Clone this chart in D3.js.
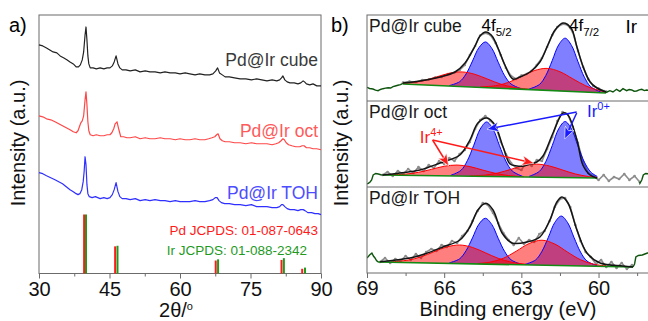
<!DOCTYPE html>
<html>
<head>
<meta charset="utf-8">
<script src="https://cdn.jsdelivr.net/npm/d3@7"></script>
<style>
  body { margin: 0; background: #fff; }
  svg { display: block; font-family: Arial, "Liberation Sans", sans-serif; }
  .frame { fill: none; stroke: #6b6b6b; stroke-width: 1; }
  .axis text { font-size: 20px; fill: #111; }
  .axis line { stroke: #6b6b6b; }
  .axis-title { font-size: 20px; fill: #111; }
  .sample-label { font-size: 17.5px; }
</style>
</head>
<body>
<div id="chart"></div>
<script>
// ---------- a) XRD patterns: [2theta (deg), intensity (a.u., stacked)] ----------
const xrdCube = [[30.0,229],[30.8,228],[31.6,226],[32.3,224],[33.0,222],[33.8,221],[34.5,218],[35.3,216],[36.0,214],[36.6,212],[37.3,210],[37.9,207],[38.4,207],[38.8,209],[39.2,214],[39.5,222],[39.8,239],[40.0,247],[40.2,234],[40.4,218],[40.6,210],[40.9,206],[41.5,206],[42.2,205],[43.0,206],[43.8,205],[44.5,206],[45.1,206],[45.6,208],[46.0,212],[46.4,218],[46.8,210],[47.2,206],[47.7,204],[48.5,204],[49.4,203],[50.5,204],[51.5,202],[52.6,203],[53.6,202],[54.7,202],[55.8,201],[56.8,202],[57.9,201],[59.0,201],[60.0,200],[61.1,201],[62.1,200],[63.2,199],[64.2,200],[65.3,199],[66.3,199],[67.0,200],[67.6,203],[68.0,206],[68.4,201],[69.0,199],[69.6,197],[70.5,197],[71.6,196],[72.8,195],[74.0,195],[75.2,194],[76.3,195],[77.4,194],[78.5,193],[79.6,194],[80.6,193],[81.2,194],[81.6,196],[81.9,198],[82.3,194],[82.8,192],[83.4,191],[84.3,191],[85.1,190],[85.7,191],[86.2,193],[86.5,192],[86.9,190],[87.6,189],[88.3,190],[89.1,188],[90.0,188]];
const xrdOct = [[30.0,158],[30.8,157],[31.6,155],[32.5,154],[33.4,152],[34.2,150],[35.0,148],[35.8,146],[36.6,144],[37.3,142],[37.9,141],[38.3,143],[38.6,147],[38.9,151],[39.2,153],[39.5,158],[39.8,174],[40.0,182],[40.2,169],[40.4,152],[40.6,143],[40.9,139],[41.5,138],[42.2,139],[43.0,138],[43.8,138],[44.5,139],[45.1,139],[45.5,141],[45.9,145],[46.2,150],[46.6,152],[47.0,144],[47.4,137],[48.0,137],[48.7,136],[49.4,136],[50.5,137],[51.5,135],[52.6,136],[53.6,135],[54.7,135],[55.8,136],[56.8,135],[57.9,135],[59.0,134],[60.0,135],[61.1,134],[62.1,134],[63.2,135],[64.2,134],[65.3,134],[66.1,135],[66.8,136],[67.4,137],[67.8,139],[68.1,140],[68.5,135],[69.0,133],[69.6,132],[70.5,132],[71.6,131],[72.8,131],[74.0,130],[75.2,131],[76.3,130],[77.4,130],[78.5,130],[79.6,129],[80.4,130],[81.0,131],[81.5,133],[81.9,135],[82.2,134],[82.6,131],[83.1,129],[83.8,128],[84.6,127],[85.5,127],[86.0,128],[86.4,128],[86.9,126],[87.6,126],[88.3,125],[89.1,125],[90.0,124]];
const xrdToh = [[30.0,101],[30.8,100],[31.6,98],[32.5,96],[33.4,94],[34.2,92],[35.0,90],[35.8,87],[36.6,84],[37.3,82],[37.9,80],[38.3,79],[38.7,80],[39.1,84],[39.4,92],[39.6,102],[39.8,117],[40.0,109],[40.2,89],[40.4,80],[40.7,77],[41.3,76],[42.0,77],[43.0,75],[43.8,76],[44.5,75],[45.1,76],[45.6,79],[46.0,84],[46.4,91],[46.8,82],[47.2,77],[47.7,75],[48.5,75],[49.4,74],[50.5,75],[51.5,73],[52.6,74],[53.6,73],[54.7,74],[55.8,73],[56.8,73],[57.9,72],[59.0,73],[60.0,72],[61.1,72],[62.1,72],[63.2,73],[64.2,72],[65.3,72],[66.3,73],[67.0,74],[67.5,76],[67.9,76],[68.3,73],[68.8,71],[69.5,70],[70.5,70],[71.6,69],[72.8,69],[74.0,68],[75.2,69],[76.3,67],[77.4,67],[78.5,67],[79.6,66],[80.6,66],[81.2,67],[81.6,69],[81.9,69],[82.3,67],[82.8,65],[83.4,64],[84.3,64],[85.1,63],[85.7,64],[86.2,64],[86.6,63],[87.2,61],[88.0,61],[88.7,60],[89.4,60],[90.0,59]];

// reference patterns (position in 2theta, relative intensity)
const pdRefPos = [39.6, 46.2, 67.6, 81.6, 86.0];
const pdRefInt = [100, 46, 22, 23, 8];
const irRefPos = [40.0, 46.7, 68.1, 82.1, 86.6];
const irRefInt = [100, 47, 24, 26, 10];

const xrdTicks = [30, 45, 60, 75, 90];
const xrdMinorTicks = [37.5, 52.5, 67.5, 82.5];
const xrdSamples = ['Pd@Ir cube', 'Pd@Ir oct', 'Pd@Ir TOH'];
const refLabels = ['Pd JCPDS: 01-087-0643', 'Ir JCPDS: 01-088-2342'];

// ---------- b) Ir 4f XPS: [binding energy (eV), intensity (a.u.)] ----------
const xpsTicks = [69, 66, 63, 60];
const xpsMinorTicks = [67.5, 64.5, 61.5, 58.5];

const cubeRaw = [[67.6,18.5],[67.35,19.5],[67.1,19],[66.85,21],[66.6,21.5],[66.35,23.5],[66.1,24],[65.85,27],[65.6,28.5],[65.4,31],[65.2,36],[65.0,46],[64.8,55],[64.6,65.5],[64.4,68],[64.2,66],[64.0,58],[63.8,46],[63.6,33],[63.4,25],[63.2,22],[63.0,25.5],[62.8,27],[62.6,30],[62.4,36],[62.2,43],[62.0,54],[61.8,66],[61.6,74],[61.4,77],[61.2,76],[61.0,69],[60.8,50],[60.6,34],[60.4,22],[60.2,15],[60.0,12.5],[59.8,10],[59.7,9.5]];
const cubeEnvelope = [[67.6,18],[66.94,20],[66.16,24],[65.58,29],[65.19,38],[64.8,55],[64.61,65],[64.38,69],[64.14,65],[63.91,53],[63.64,36],[63.33,22],[63.05,24],[62.66,29],[62.28,39],[61.97,56],[61.69,71],[61.38,78],[61.07,73],[60.84,54],[60.61,35],[60.33,19],[60.06,13],[59.71,9]];
const cubeBaseline = [[67.6,17],[59.71,8]];
const cubeTailL = [[69.0,13.7],[68.9,12.5],[68.77,12],[68.67,10.8],[68.57,10.3],[68.48,11.5],[68.38,12.3],[68.28,12.9],[68.18,13.3],[68.08,13.0],[67.99,14.3],[67.9,15.0],[67.8,15.7],[67.7,16.4],[67.6,17.7]];
const cubeTailR = [[59.71,8.5],[59.56,10.3],[59.44,9],[59.3,11.7],[59.17,9.7],[59.05,12.3],[58.91,10.3],[58.81,11.5],[58.71,11],[58.62,9.8],[58.52,10],[58.42,11.2],[58.32,11.7],[58.22,10.4],[58.13,11],[58.0,10.5]];
const cubeIr0a = [[65.8,0.5],[65.4,4.8],[65.15,12.8],[64.9,26.0],[64.65,39.7],[64.4,45.7],[64.15,39.7],[63.9,26.0],[63.65,12.8],[63.4,4.8],[63.0,0.5]];
const cubeIr0b = [[62.7,0.6],[62.3,5.5],[62.05,14.8],[61.8,30.1],[61.55,46.0],[61.3,53],[61.05,46.0],[60.8,30.1],[60.55,14.8],[60.3,5.5],[59.9,0.6]];
const cubeIr4a = [[67.6,0.8],[67.3,1.6],[66.8,4.2],[66.3,8.5],[65.8,12.8],[65.3,14.7],[64.8,12.8],[64.3,8.5],[63.8,4.2],[63.3,1.6],[62.7,0.3]];
const cubeIr4b = [[64.6,0.5],[64.0,2.4],[63.5,6.3],[63.0,12.7],[62.5,19.2],[62.0,22],[61.5,19.2],[61.0,12.7],[60.5,6.3],[60.0,2.4],[59.71,1.0]];

const octRaw = [[68.4,12],[68.2,15],[68.0,11],[67.8,16],[67.6,13],[67.4,18],[67.2,14],[67.0,20],[66.8,16],[66.6,22],[66.4,19],[66.2,26],[66.0,23],[65.8,29],[65.6,26],[65.4,33],[65.2,37],[65.0,45],[64.8,58],[64.6,67],[64.4,71],[64.2,66],[64.0,61],[63.8,45],[63.6,33],[63.4,24],[63.2,19],[63.0,17],[62.8,25],[62.6,21],[62.4,27],[62.2,26],[62.0,38],[61.8,50],[61.6,66],[61.4,75],[61.2,73],[61.0,60],[60.8,44],[60.6,25],[60.4,14],[60.2,11],[60.0,7],[59.8,12],[59.6,6],[59.4,10],[59.2,8],[59.0,13],[58.8,7],[58.6,11],[58.4,5]];
const octEnvelope = [[68.4,12],[67.72,14],[66.94,17],[66.16,24],[65.39,32],[65.0,47],[64.69,64],[64.34,69],[64.03,62],[63.71,40],[63.44,23],[63.17,21],[62.9,21],[62.66,23],[62.4,25],[62.16,31],[61.77,54],[61.38,74],[61.19,72],[60.84,47],[60.61,22],[60.33,12],[60.06,9]];
const octBaseline = [[68.4,12],[60.05,9]];
const octTailL = [[69.0,3],[68.95,3.7],[68.88,5],[68.82,7],[68.76,12],[68.66,13.5],[68.56,13],[68.43,12]];
const octTailR = [[58.4,5],[58.39,3.7],[58.32,7],[58.26,12],[58.17,13.5],[58.0,13]];
const octIr0a = [[65.75,0.6],[65.35,5.7],[65.1,15.5],[64.85,31.0],[64.6,47.3],[64.35,54.5],[64.1,47.3],[63.85,31.0],[63.6,15.5],[63.35,5.7],[62.95,0.6]];
const octIr0b = [[62.7,0.7],[62.3,5.8],[62.05,15.7],[61.8,31.8],[61.55,48.6],[61.3,56],[61.05,48.6],[60.8,31.8],[60.55,15.7],[60.3,5.8],[60.05,1.6]];
const octIr4a = [[68.1,0.3],[67.5,1.2],[67.0,3.2],[66.5,6.3],[66.0,9.6],[65.5,11],[65.0,9.6],[64.5,6.3],[64.0,3.2],[63.5,1.2],[62.9,0.3]];
const octIr4b = [[65.0,0.3],[64.4,1.4],[63.9,3.7],[63.4,7.5],[62.9,11.3],[62.4,13],[61.9,11.3],[61.4,7.5],[60.9,3.7],[60.4,1.4],[60.05,0.6]];

const tohRaw = [[68.5,11],[68.3,15],[68.1,10],[67.9,14],[67.7,12],[67.5,17],[67.3,13],[67.1,19],[66.9,15],[66.7,21],[66.5,24],[66.3,22],[66.1,28],[65.9,26],[65.7,32],[65.5,30],[65.3,37],[65.1,42],[64.9,52],[64.7,62],[64.5,70],[64.3,68],[64.1,60],[63.9,50],[63.7,40],[63.5,33],[63.3,28],[63.1,35],[62.9,29],[62.7,33],[62.5,31],[62.3,39],[62.1,42],[61.9,52],[61.7,66],[61.5,74],[61.3,75],[61.1,66],[60.9,48],[60.7,32],[60.5,21],[60.3,16],[60.1,9],[59.9,13],[59.7,6],[59.5,11],[59.3,5],[59.1,10],[58.9,4],[58.7,8]];
const tohEnvelope = [[68.49,11.3],[67.33,15],[66.7,19.5],[66.05,26],[65.39,33],[65.0,46],[64.69,63],[64.38,69.7],[64.1,63],[63.75,40],[63.36,30],[62.78,31],[62.28,36],[61.89,53],[61.62,71],[61.42,76],[61.19,70],[60.84,43],[60.45,20],[59.94,10],[59.05,7],[58.66,6]];
const tohBaseline = [[68.57,11],[58.66,6]];
const tohTailL = [[69.0,15],[68.9,18],[68.81,20],[68.75,17],[68.69,15],[68.63,12.5],[68.57,11]];
const tohTailR = [[58.66,6],[58.6,9],[58.55,16],[58.45,17.5],[58.3,18],[58.2,19],[58.1,20],[58.0,20]];
const tohIr0a = [[65.8,0.5],[65.4,4.8],[65.15,13.0],[64.9,26.0],[64.65,39.8],[64.4,45.8],[64.15,39.8],[63.9,26.0],[63.65,13.0],[63.4,4.8],[63.0,0.5]];
const tohIr0b = [[62.85,0.6],[62.45,5.1],[62.2,13.9],[61.95,28.1],[61.7,43.0],[61.45,49.5],[61.2,43.0],[60.95,28.1],[60.7,13.9],[60.45,5.1],[60.05,0.6]];
const tohIr4a = [[68.0,0.6],[67.4,2.5],[66.9,6.0],[66.4,11.3],[65.9,16.4],[65.4,18.6],[64.9,16.4],[64.4,11.3],[63.9,6.0],[63.4,2.5],[62.8,0.6]];
const tohIr4b = [[64.7,0.5],[64.2,2.1],[63.7,6.2],[63.2,13.5],[62.7,21.4],[62.2,25],[61.7,21.4],[61.2,13.5],[60.7,6.2],[60.2,2.1],[59.7,0.5]];


const svg = d3.select('#chart').append('svg')
    .attr('width', 648)
    .attr('height', 321);

class XrdChart {
    constructor(_config) {
        this.config = {
            svg: _config.svg,
            left: 39, right: 321, top: 15, bottom: 273.5
        };
        this.initVis();
    }

    initVis() {
        let vis = this;
        const c = vis.config;

        vis.xScale = d3.scaleLinear().domain([30, 90]).range([c.left, c.right]);
        vis.yScale = d3.scaleLinear().domain([0, 259]).range([c.bottom, c.top]);
        // reference bars: 100% reaches about a quarter of the plot height
        vis.refScale = d3.scaleLinear().domain([0, 100]).range([c.bottom, c.bottom - 59]);

        vis.g = c.svg.append('g');

        // Axes (major + minor ticks, no domain path)
        const xAxisG = vis.g.append('g')
            .attr('class', 'axis')
            .attr('transform', `translate(0,${c.bottom})`)
            .call(d3.axisBottom(vis.xScale).tickValues(xrdTicks).tickSize(5).tickPadding(3))
            .call(g => g.select('.domain').remove());
        vis.g.append('g')
            .attr('class', 'axis')
            .attr('transform', `translate(0,${c.bottom})`)
            .call(d3.axisBottom(vis.xScale).tickValues(xrdMinorTicks).tickSize(3).tickFormat(''))
            .call(g => g.select('.domain').remove());
        xAxisG.selectAll('text').attr('font-size', 20).attr('font-family', null);

        vis.g.append('rect')
            .attr('class', 'frame')
            .attr('x', c.left).attr('y', c.top)
            .attr('width', c.right - c.left).attr('height', c.bottom - c.top);

        // Axis titles
        vis.g.append('text')
            .attr('class', 'axis-title')
            .attr('transform', `translate(25,143) rotate(-90)`)
            .attr('text-anchor', 'middle')
            .attr('font-size', 19)
            .text('Intensity (a.u.)');

        const xt = vis.g.append('text')
            .attr('class', 'axis-title')
            .attr('x', 176).attr('y', 317)
            .attr('text-anchor', 'middle')
            .text('2θ/');
        xt.append('tspan').attr('dy', -7).attr('font-size', 11).text('o');

        vis.g.append('text')
            .attr('x', 9).attr('y', 32)
            .attr('font-size', 20)
            .text('a)');

        vis.renderVis();
    }

    renderVis() {
        let vis = this;

        const line = d3.line()
            .x(d => vis.xScale(d[0]))
            .y(d => vis.yScale(d[1]));

        const traces = [
            {data: xrdCube, color: '#222222', label: '#3a3a3a', y: 66},
            {data: xrdOct, color: '#ff4747', label: '#ff5a5a', y: 137},
            {data: xrdToh, color: '#2f2fff', label: '#4d4dff', y: 199}
        ];

        vis.g.selectAll('.xrd-trace')
            .data(traces)
            .join('path')
            .attr('class', 'xrd-trace')
            .attr('d', d => line(d.data))
            .attr('fill', 'none')
            .attr('stroke', d => d.color)
            .attr('stroke-width', 1.2)
            .attr('stroke-linejoin', 'round');

        vis.g.selectAll('.xrd-label')
            .data(traces)
            .join('text')
            .attr('class', 'xrd-label sample-label')
            .attr('x', 318)
            .attr('y', d => d.y)
            .attr('text-anchor', 'end')
            .attr('fill', d => d.label)
            .text((d, i) => xrdSamples[i]);

        // Reference stick patterns
        const pd = pdRefPos.map((p, i) => ({pos: p, val: pdRefInt[i]}));
        const ir = irRefPos.map((p, i) => ({pos: p, val: irRefInt[i]}));

        vis.g.selectAll('.ref-pd')
            .data(pd)
            .join('rect')
            .attr('class', 'ref-pd')
            .attr('x', d => vis.xScale(d.pos) - 1)
            .attr('width', 2)
            .attr('y', d => vis.refScale(d.val))
            .attr('height', d => vis.config.bottom - vis.refScale(d.val))
            .attr('fill', '#ff1a1a');

        vis.g.selectAll('.ref-ir')
            .data(ir)
            .join('rect')
            .attr('class', 'ref-ir')
            .attr('x', d => vis.xScale(d.pos) - 1)
            .attr('width', 2)
            .attr('y', d => vis.refScale(d.val))
            .attr('height', d => vis.config.bottom - vis.refScale(d.val))
            .attr('fill', '#1f9a1f');

        vis.g.selectAll('.ref-label')
            .data(refLabels)
            .join('text')
            .attr('class', 'ref-label')
            .attr('x', (d, i) => i === 0 ? 318 : 307)
            .attr('y', (d, i) => i === 0 ? 235 : 255)
            .attr('text-anchor', 'end')
            .attr('font-size', 13.5)
            .attr('fill', (d, i) => i === 0 ? '#ff1a1a' : '#1f9a1f')
            .text(d => d);
    }
}

class XpsPanel {
    /**
     * One stacked sub-panel of the Ir 4f spectra
     */
    constructor(_config, _data) {
        this.config = {
            g: _config.g,
            xScale: _config.xScale,
            top: _config.top,
            height: _config.height,
            id: _config.id,
            label: _config.label
        };
        this.data = _data;
        this.initVis();
    }

    initVis() {
        let vis = this;
        const c = vis.config;

        vis.yScale = d3.scaleLinear().domain([0, 86]).range([c.top + c.height, c.top]);
        // straight background under the fitted peaks
        vis.bgScale = d3.scaleLinear()
            .domain(vis.data.baseline.map(d => d[0]))
            .range(vis.data.baseline.map(d => d[1]));

        c.g.append('clipPath')
            .attr('id', c.id)
            .append('rect')
            .attr('x', c.xScale.range()[0]).attr('y', c.top)
            .attr('width', 290).attr('height', c.height);

        vis.chart = c.g.append('g').attr('clip-path', `url(#${c.id})`);

        c.g.append('text')
            .attr('class', 'sample-label')
            .attr('x', 369)
            .attr('y', c.top + 17)
            .attr('fill', '#1a1a1a')
            .text(c.label);

        vis.renderVis();
    }

    renderVis() {
        let vis = this;
        const x = vis.config.xScale, y = vis.yScale, bg = vis.bgScale;

        const rawLine = d3.line().x(d => x(d[0])).y(d => y(d[1]));
        const smooth = d3.line().x(d => x(d[0])).y(d => y(d[1])).curve(d3.curveCatmullRom.alpha(0.5));
        const compArea = d3.area()
            .x(d => x(d[0]))
            .y0(d => y(bg(d[0])))
            .y1(d => y(bg(d[0]) + d[1]))
            .curve(d3.curveCatmullRom.alpha(0.5));
        const compLine = d3.line()
            .x(d => x(d[0]))
            .y(d => y(bg(d[0]) + d[1]))
            .curve(d3.curveCatmullRom.alpha(0.5));

        // raw spectrum
        vis.chart.append('path')
            .attr('d', rawLine(vis.data.raw))
            .attr('fill', 'none')
            .attr('stroke', '#8c8c8c')
            .attr('stroke-width', 1.6);
        vis.chart.selectAll('.raw-dot')
            .data(vis.data.raw)
            .join('circle')
            .attr('class', 'raw-dot')
            .attr('cx', d => x(d[0]))
            .attr('cy', d => y(d[1]))
            .attr('r', 1.3)
            .attr('fill', '#8c8c8c');

        // fitted components: Ir0 (blue) then Ir4+ (red)
        const comps = [
            {data: vis.data.ir0a, fill: 'rgba(0,0,255,0.5)', stroke: '#0000ff'},
            {data: vis.data.ir0b, fill: 'rgba(0,0,255,0.5)', stroke: '#0000ff'},
            {data: vis.data.ir4a, fill: 'rgba(255,0,0,0.5)', stroke: '#ff0000'},
            {data: vis.data.ir4b, fill: 'rgba(255,0,0,0.5)', stroke: '#ff0000'}
        ];
        vis.chart.selectAll('.comp-fill')
            .data(comps)
            .join('path')
            .attr('class', 'comp-fill')
            .attr('d', d => compArea(d.data))
            .attr('fill', d => d.fill);
        vis.chart.selectAll('.comp-line')
            .data(comps)
            .join('path')
            .attr('class', 'comp-line')
            .attr('d', d => compLine(d.data))
            .attr('fill', 'none')
            .attr('stroke', d => d.stroke)
            .attr('stroke-width', 1);

        // background + data outside the fitting window
        vis.chart.append('path')
            .attr('d', rawLine(vis.data.baseline))
            .attr('stroke', '#138a13')
            .attr('stroke-width', 1.6);
        vis.chart.selectAll('.tail')
            .data([vis.data.tailL, vis.data.tailR])
            .join('path')
            .attr('class', 'tail')
            .attr('d', d => rawLine(d))
            .attr('fill', 'none')
            .attr('stroke', '#0d540d')
            .attr('stroke-width', 1.4);

        // envelope
        vis.chart.append('path')
            .attr('d', smooth(vis.data.envelope))
            .attr('fill', 'none')
            .attr('stroke', '#141414')
            .attr('stroke-width', 1.5);
    }
}

// ---------- panel a ----------
new XrdChart({svg: svg});

// ---------- panel b ----------
const xb = d3.scaleLinear().domain([69, 58]).range([367, 650]);
const gb = svg.append('g');
const subTops = [15, 101, 187];
const subH = 86;

const xpsPanels = [
    new XpsPanel({g: gb, xScale: xb, top: subTops[0], height: subH, id: 'clip-cube', label: 'Pd@Ir cube'},
        {raw: cubeRaw, envelope: cubeEnvelope, baseline: cubeBaseline, tailL: cubeTailL, tailR: cubeTailR,
         ir0a: cubeIr0a, ir0b: cubeIr0b, ir4a: cubeIr4a, ir4b: cubeIr4b}),
    new XpsPanel({g: gb, xScale: xb, top: subTops[1], height: subH, id: 'clip-oct', label: 'Pd@Ir oct'},
        {raw: octRaw, envelope: octEnvelope, baseline: octBaseline, tailL: octTailL, tailR: octTailR,
         ir0a: octIr0a, ir0b: octIr0b, ir4a: octIr4a, ir4b: octIr4b}),
    new XpsPanel({g: gb, xScale: xb, top: subTops[2], height: subH, id: 'clip-toh', label: 'Pd@Ir TOH'},
        {raw: tohRaw, envelope: tohEnvelope, baseline: tohBaseline, tailL: tohTailL, tailR: tohTailR,
         ir0a: tohIr0a, ir0b: tohIr0b, ir4a: tohIr4a, ir4b: tohIr4b})
];

// frame and separators
gb.append('rect')
    .attr('class', 'frame')
    .attr('x', 367).attr('y', 15)
    .attr('width', 290).attr('height', 258);
gb.selectAll('.sep')
    .data(subTops.slice(1))
    .join('line')
    .attr('class', 'sep')
    .attr('x1', 367).attr('x2', 648)
    .attr('y1', d => d).attr('y2', d => d)
    .attr('stroke', '#6b6b6b');

// x axis
const xbAxisG = gb.append('g')
    .attr('class', 'axis')
    .attr('transform', 'translate(0,273)')
    .call(d3.axisBottom(xb).tickValues(xpsTicks).tickSize(5).tickPadding(3))
    .call(g => g.select('.domain').remove());
xbAxisG.selectAll('text').attr('font-size', 20).attr('font-family', null);
gb.append('g')
    .attr('class', 'axis')
    .attr('transform', 'translate(0,273)')
    .call(d3.axisBottom(xb).tickValues(xpsMinorTicks).tickSize(3).tickFormat(''))
    .call(g => g.select('.domain').remove());

gb.append('text')
    .attr('class', 'axis-title')
    .attr('x', 508).attr('y', 316)
    .attr('text-anchor', 'middle')
    .text('Binding energy (eV)');
gb.append('text')
    .attr('class', 'axis-title')
    .attr('transform', 'translate(348,143) rotate(-90)')
    .attr('text-anchor', 'middle')
    .attr('font-size', 19)
    .text('Intensity (a.u.)');
gb.append('text')
    .attr('x', 331).attr('y', 32)
    .attr('font-size', 20)
    .text('b)');

// peak annotations in the top panel
const yCube = xpsPanels[0].yScale;
const f52 = gb.append('text').attr('x', xb(64.55)).attr('y', yCube(70)).attr('font-size', 17).text('4f');
f52.append('tspan').attr('dy', 5).attr('font-size', 11.5).text('5/2');
const f72 = gb.append('text').attr('x', xb(61.15)).attr('y', yCube(70)).attr('font-size', 17).text('4f');
f72.append('tspan').attr('dy', 5).attr('font-size', 11.5).text('7/2');
gb.append('text').attr('x', xb(58.95)).attr('y', yCube(68)).attr('font-size', 19).text('Ir');

// Ir0+ / Ir4+ arrows in the middle panel
const yOct = xpsPanels[1].yScale;
const defs = svg.append('defs');
[['arrow-blue', '#1a1aff'], ['arrow-red', '#ff1a1a']].forEach(([id, col]) => {
    defs.append('marker')
        .attr('id', id)
        .attr('markerUnits', 'userSpaceOnUse')
        .attr('viewBox', '0 0 12 10')
        .attr('refX', 11).attr('refY', 5)
        .attr('markerWidth', 12).attr('markerHeight', 10)
        .attr('orient', 'auto')
        .append('path')
        .attr('d', 'M0,0 L12,5 L0,10 L3,5 Z')
        .attr('fill', col)
        .attr('stroke', '#fff')
        .attr('stroke-width', 0.6);
});

const arrows = [
    {from: [60.85, 75], to: [64.3, 58], col: '#1a1aff', m: 'arrow-blue'},
    {from: [60.85, 74], to: [61.3, 49], col: '#1a1aff', m: 'arrow-blue'},
    {from: [66.45, 47], to: [65.85, 22], col: '#ff1a1a', m: 'arrow-red'},
    {from: [66.45, 47], to: [62.55, 24], col: '#ff1a1a', m: 'arrow-red'}
];
gb.selectAll('.anno-arrow')
    .data(arrows)
    .join('line')
    .attr('class', 'anno-arrow')
    .attr('x1', d => xb(d.from[0])).attr('y1', d => yOct(d.from[1]))
    .attr('x2', d => xb(d.to[0])).attr('y2', d => yOct(d.to[1]))
    .attr('stroke', d => d.col)
    .attr('stroke-width', 1.5)
    .attr('marker-end', d => `url(#${d.m})`);

const ir0 = gb.append('text').attr('x', xb(60.45)).attr('y', yOct(70)).attr('font-size', 17).attr('fill', '#1a1aff').text('Ir');
ir0.append('tspan').attr('dy', -7).attr('font-size', 11).text('0+');
const ir4 = gb.append('text').attr('x', xb(66.95)).attr('y', yOct(44)).attr('font-size', 17).attr('fill', '#ff1a1a').text('Ir');
ir4.append('tspan').attr('dy', -7).attr('font-size', 11).text('4+');
</script>
</body>
</html>
